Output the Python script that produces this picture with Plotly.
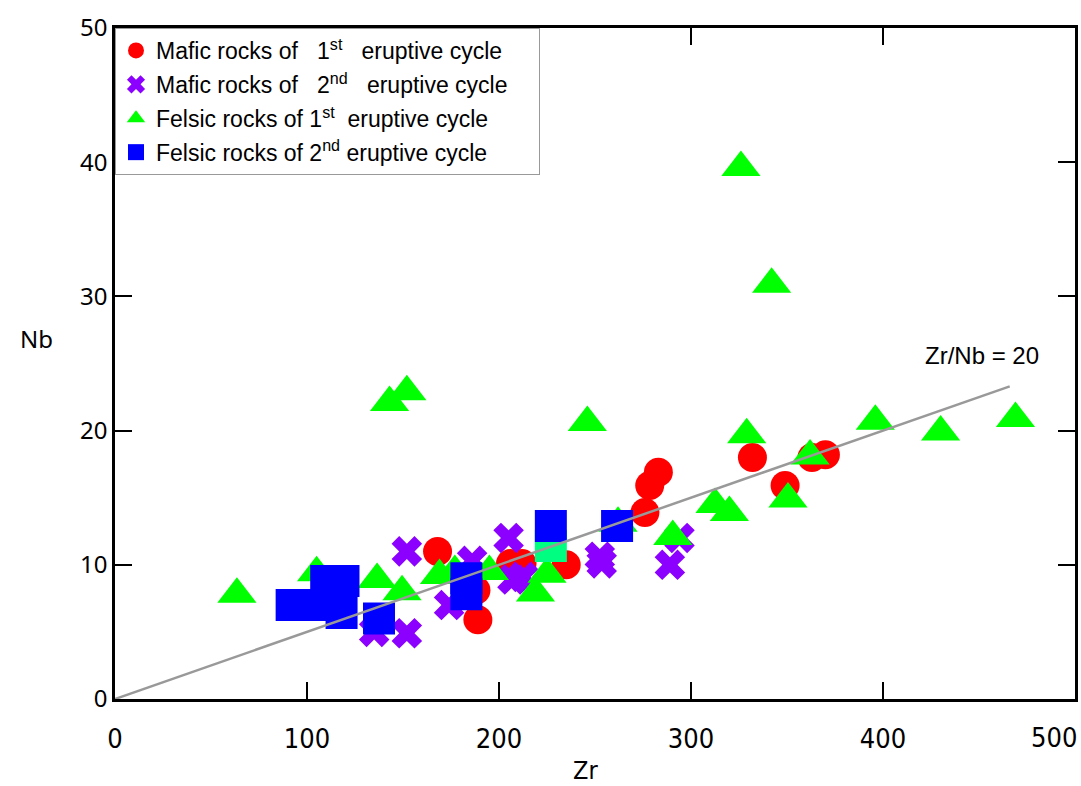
import plotly.graph_objects as go

# Mafic rocks, 1st eruptive cycle
mafic1_zr = [168, 189, 188, 206, 212, 235, 276, 278.5, 283, 332, 349, 363, 370]
mafic1_nb = [11.0, 5.9, 8.1, 10.1, 10.1, 10.0, 13.9, 15.9, 16.9, 18.0, 15.9, 18.0, 18.2]

# Mafic rocks, 2nd eruptive cycle
mafic2_zr = [135, 152, 152, 174, 186, 205, 207, 212.5, 252.5, 253.5, 289, 294]
mafic2_nb = [5.0, 11.0, 4.9, 7.0, 10.3, 12.0, 8.9, 9.1, 10.6, 10.1, 10.0, 12.0]

# Felsic rocks, 1st eruptive cycle
felsic1_zr = [63.5, 105, 136.5, 149.5, 143, 152, 169, 177, 195, 219, 225, 246, 262,
              290.5, 312.5, 320, 329, 350.5, 362, 326, 342, 396, 430, 469]
felsic1_nb = [7.8, 9.4, 8.9, 8.0, 22.1, 22.9, 9.2, 9.5, 9.5, 7.9, 9.3, 20.6, 13.1,
              12.1, 14.5, 13.9, 19.7, 14.9, 18.1, 39.6, 30.9, 20.7, 19.9, 20.9]

# odd light-green square hidden behind a felsic 2nd point
extra_zr = [227]
extra_nb = [11.4]

# Felsic rocks, 2nd eruptive cycle
felsic2_zr = [92, 101, 110, 110, 119, 118, 137.5, 183, 183, 227, 261.5]
felsic2_nb = [7.0, 7.0, 7.0, 8.8, 8.8, 6.4, 6.0, 9.0, 7.8, 12.9, 12.9]

# Zr/Nb = 20 reference line
ref_zr = [0, 466]
ref_nb = [0, 23.3]

x_ticks = [0, 100, 200, 300, 400, 500]
x_ticktext = ["0", "100", "200", "300", "400", ""]
x_last_label = "500"
y_ticks = [0, 10, 20, 30, 40, 50]

NB = "\u00a0"
labels = [
    f"Mafic rocks of{NB*3}1<sup>st</sup>{NB*3}eruptive cycle",
    f"Mafic rocks of{NB*3}2<sup>nd</sup>{NB*3}eruptive cycle{NB*4}",
    f"Felsic rocks of 1<sup>st</sup>{NB*2}eruptive cycle",
    f"Felsic rocks of 2<sup>nd</sup> eruptive cycle",
]

COND = "DejaVu Sans Condensed, Liberation Sans Narrow, sans-serif"

fig = go.Figure()
fig.add_trace(go.Scatter(x=mafic1_zr, y=mafic1_nb, mode="markers", name=labels[0],
                         legendgroup="a",
                         marker=dict(symbol="circle", size=29, color="#FF0000", line=dict(width=0))))
fig.add_trace(go.Scatter(x=mafic2_zr, y=mafic2_nb, mode="markers", name=labels[1],
                         legendgroup="b",
                         marker=dict(symbol="x", size=27, color="#8B00FF", line=dict(width=0))))
fig.add_trace(go.Scatter(x=felsic1_zr, y=felsic1_nb, mode="markers", name=labels[2],
                         legendgroup="c",
                         marker=dict(symbol="triangle-up", size=34, color="#00FF00", line=dict(width=0))))
fig.add_trace(go.Scatter(x=extra_zr, y=extra_nb, mode="markers", showlegend=False,
                         marker=dict(symbol="square", size=32, color="#00FF80", line=dict(width=0))))
fig.add_trace(go.Scatter(x=felsic2_zr, y=felsic2_nb, mode="markers", name=labels[3],
                         legendgroup="d",
                         marker=dict(symbol="square", size=32, color="#0000FF", line=dict(width=0))))
fig.add_trace(go.Scatter(x=ref_zr, y=ref_nb, mode="lines", showlegend=False,
                         line=dict(color="#999999", width=2.5)))

fig.add_annotation(x=466, y=23.3, xref="x", yref="y", text="Zr/Nb = 20", showarrow=False,
                   xanchor="right", yanchor="bottom", yshift=15, xshift=31,
                   font=dict(family="Liberation Sans, Arial, sans-serif", size=24, color="black"))
fig.add_annotation(x=-0.082, y=0.538, xref="paper", yref="paper", text="Nb", showarrow=False,
                   xanchor="center", yanchor="middle",
                   font=dict(family="Noto Sans, DejaVu Sans, sans-serif", size=24, color="black"))
fig.add_annotation(x=0.49, y=-0.106, xref="paper", yref="paper", text="Zr", showarrow=False,
                   xanchor="center", yanchor="middle",
                   font=dict(family=COND, size=25, color="black"))
fig.add_annotation(x=x_ticks[-1], y=0, xref="x", yref="paper", text=x_last_label,
                   showarrow=False, xanchor="right", yanchor="top", xshift=4, yshift=-21,
                   font=dict(family=COND, size=27, color="black"))

fig.update_xaxes(range=[0, 500], tickvals=x_ticks, ticktext=x_ticktext,
                 ticks="inside", ticklen=17, tickwidth=2, tickcolor="black",
                 showline=True, linewidth=2.5, linecolor="black", mirror="allticks",
                 showgrid=False, zeroline=False, ticklabeloverflow="allow",
                 ticklabelstandoff=14, automargin=False,
                 tickfont=dict(family=COND, size=27, color="black"))
fig.update_yaxes(range=[0, 50], tickvals=y_ticks, ticktext=[str(v) for v in y_ticks],
                 ticks="inside", ticklen=17, tickwidth=2, tickcolor="black",
                 showline=True, linewidth=2.5, linecolor="black", mirror="allticks",
                 showgrid=False, zeroline=False, ticklabelstandoff=0, automargin=False,
                 tickfont=dict(family="Noto Sans, DejaVu Sans, sans-serif", size=24, color="black"))

fig.update_layout(
    width=1081, height=786,
    margin=dict(l=115, r=6, t=28, b=87),
    paper_bgcolor="white", plot_bgcolor="white",
    legend=dict(x=0, y=1, xanchor="left", yanchor="top",
                bgcolor="white", bordercolor="#999999", borderwidth=1,
                font=dict(family="Liberation Sans, Arial, sans-serif", size=23, color="black"),
                tracegroupgap=1, itemwidth=30),
)

fig.write_html("out.html")
